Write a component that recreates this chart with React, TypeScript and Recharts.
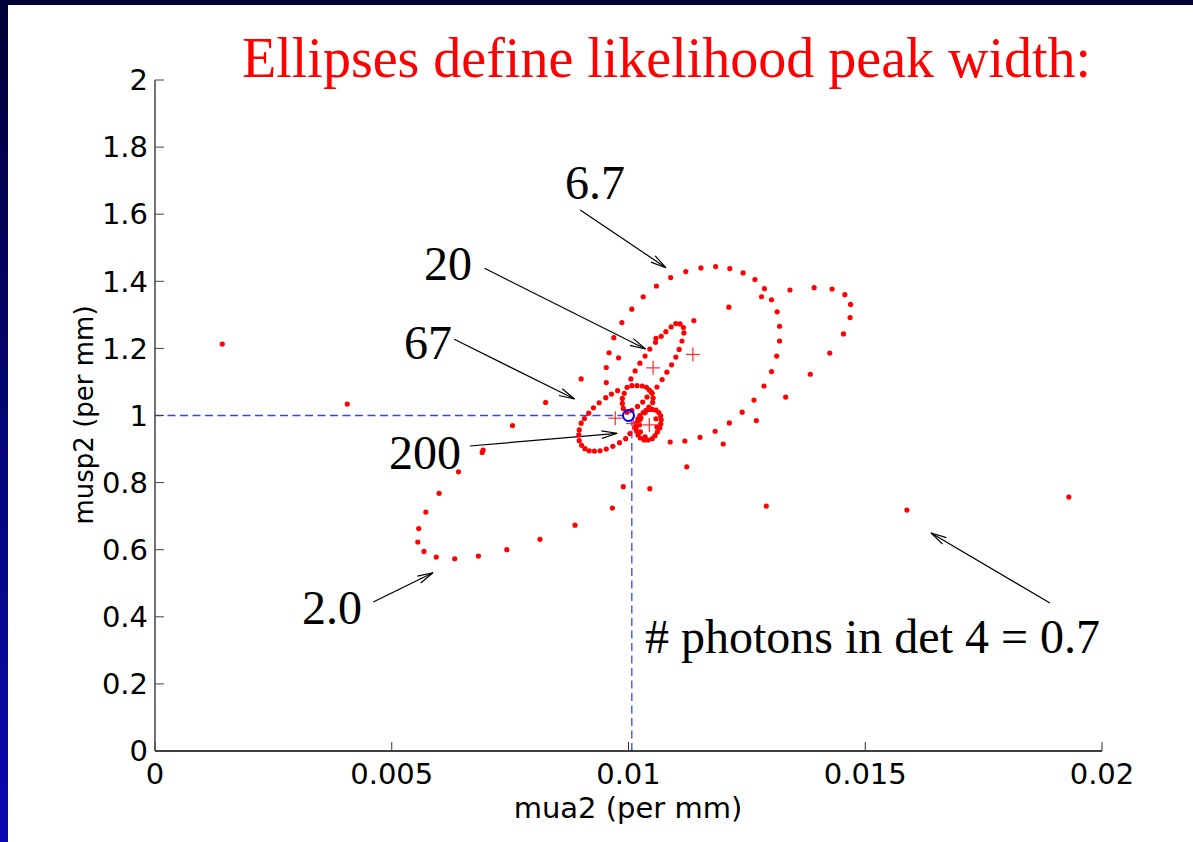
import React from "react";
import { ScatterChart, Scatter, XAxis, YAxis, ReferenceLine } from "recharts";

// contour dots, [mua2, musp2] in per mm
const ellipse2 = [
  [0.006, 0.768], [0.00572, 0.712], [0.00557, 0.663], [0.00555, 0.623], [0.00568, 0.595],
  [0.00594, 0.578], [0.00633, 0.573], [0.00683, 0.581], [0.00743, 0.6], [0.00813, 0.631],
  [0.00887, 0.673], [0.00966, 0.724], [0.01045, 0.782], [0.01123, 0.847], [0.012, 0.915],
  [0.0127, 0.985], [0.01332, 1.055], [0.01384, 1.123], [0.01425, 1.186], [0.01454, 1.243],
  [0.01468, 1.292], [0.01469, 1.331], [0.01457, 1.36], [0.0143, 1.377], [0.01392, 1.381],
  [0.01341, 1.374], [0.01281, 1.354], [0.01212, 1.323], [0.01138, 1.283], [0.01058, 1.23],
  [0.00979, 1.172], [0.009, 1.109], [0.00825, 1.039], [0.00755, 0.97], [0.00693, 0.897],
  [0.00641, 0.832],
];

const ellipse6p7 = [
  [0.00953, 1.098], [0.00953, 1.143], [0.00959, 1.187], [0.00969, 1.232], [0.00986, 1.277],
  [0.01007, 1.317], [0.01031, 1.354], [0.01059, 1.386], [0.01089, 1.411], [0.01121, 1.429],
  [0.01153, 1.44], [0.01184, 1.444], [0.01214, 1.438], [0.01242, 1.425], [0.01267, 1.405],
  [0.01287, 1.378], [0.01302, 1.345], [0.01314, 1.309], [0.01319, 1.266], [0.01319, 1.222],
  [0.01313, 1.177], [0.01302, 1.131], [0.01286, 1.088], [0.01265, 1.046], [0.0124, 1.01],
  [0.01213, 0.978], [0.01183, 0.953], [0.01151, 0.935], [0.01119, 0.924], [0.01088, 0.921],
];

const ellipse20 = [
  [0.011, 1.274], [0.0109, 1.264], [0.01079, 1.25], [0.01069, 1.236], [0.01057, 1.218],
  [0.01045, 1.198], [0.01035, 1.177], [0.01024, 1.156], [0.01014, 1.133], [0.01005, 1.109],
  [0.00997, 1.084], [0.00991, 1.066], [0.00987, 1.051], [0.00987, 1.036], [0.00989, 1.021],
  [0.00997, 1.01], [0.01007, 1.015], [0.01019, 1.027], [0.0103, 1.04], [0.01039, 1.055],
  [0.01048, 1.07], [0.0106, 1.085], [0.01071, 1.107], [0.01081, 1.129], [0.01091, 1.151],
  [0.011, 1.174], [0.01107, 1.197], [0.01113, 1.222], [0.01117, 1.246], [0.01116, 1.262],
  [0.01109, 1.273],
];

const ellipse67 = [
  [0.00895, 0.942], [0.00896, 0.957], [0.009, 0.977], [0.00907, 0.991], [0.00916, 1.007],
  [0.00926, 1.023], [0.00938, 1.038], [0.00952, 1.053], [0.00964, 1.064], [0.00977, 1.074],
  [0.01007, 1.089], [0.01018, 1.089], [0.01029, 1.088], [0.01038, 1.084], [0.01044, 1.076],
  [0.0105, 1.066], [0.01052, 1.052], [0.01051, 1.039], [0.01043, 1.025], [0.01035, 1.008],
  [0.01024, 0.987], [0.01013, 0.964], [0.01003, 0.946], [0.00994, 0.931], [0.00981, 0.919],
  [0.00967, 0.908], [0.00953, 0.9], [0.0094, 0.895], [0.00928, 0.894], [0.00917, 0.895],
  [0.00908, 0.901], [0.00901, 0.911], [0.00896, 0.925],
];

const ellipse200 = [
  [0.0105, 1.018], [0.01058, 1.016], [0.01064, 1.009], [0.01068, 0.999], [0.01069, 0.987],
  [0.01068, 0.975], [0.01066, 0.963], [0.01061, 0.951], [0.01056, 0.94], [0.0105, 0.931],
  [0.01041, 0.927], [0.01033, 0.927], [0.01025, 0.933], [0.0102, 0.942], [0.01017, 0.954],
  [0.01016, 0.966], [0.01017, 0.978], [0.0102, 0.99], [0.01024, 1.0], [0.01031, 1.009],
  [0.01037, 1.015], [0.01043, 1.018], [0.01023, 0.972], [0.01025, 0.951], [0.01035, 0.936],
  [0.01026, 0.993], [0.0106, 0.966], [0.01058, 0.99],
];

// dots from the 0.7-photon contour that fall inside the axes
const ellipse0p7 = [
  [0.00142, 1.213], [0.00406, 1.034], [0.00691, 0.89], [0.00989, 0.788],
  [0.01291, 0.73], [0.01588, 0.718], [0.0193, 0.757],
];

// fitted peak centres and the true value
const centres = [
  [0.00972, 0.992], [0.0101, 0.976], [0.01044, 0.972], [0.01052, 1.142], [0.01136, 1.182],
];
const truth = [[0.01, 1]];

const xTicks = [0, 0.005, 0.01, 0.015, 0.02];
const yTicks = [0, 0.2, 0.4, 0.6, 0.8, 1, 1.2, 1.4, 1.6, 1.8, 2];

// annotation arrows: [fromX, fromY, toX, toY]
const arrows = [
  [0.00898, 1.6125, 0.01079, 1.4405],
  [0.00696, 1.4387, 0.01036, 1.1982],
  [0.00632, 1.2271, 0.00886, 1.0492],
  [0.00665, 0.9091, 0.00976, 0.947],
  [0.00461, 0.4441, 0.00587, 0.5314],
  [0.0189, 0.4411, 0.01639, 0.6498],
];

const pts = (arr: number[][]) => arr.map(([x, y]) => ({ x, y }));

const RedDot = (p: any) => <circle cx={p.cx} cy={p.cy} r={2.6} fill="#ff0000" />;

const Plus = (p: any) => (
  <g stroke="#ff2a2a" strokeWidth={1.2}>
    <line x1={p.cx - 7} y1={p.cy} x2={p.cx + 7} y2={p.cy} />
    <line x1={p.cx} y1={p.cy - 7} x2={p.cx} y2={p.cy + 7} />
  </g>
);

const Ring = (p: any) => (
  <circle cx={p.cx} cy={p.cy} r={5.5} fill="none" stroke="#0000ff" strokeWidth={2} />
);

const Arrow = (p: any) => {
  const { x1, y1, x2, y2 } = p;
  const a = Math.atan2(y2 - y1, x2 - x1);
  const len = 16;
  const s = 0.24;
  const b1 = [x2 - len * Math.cos(a - s), y2 - len * Math.sin(a - s)];
  const b2 = [x2 - len * Math.cos(a + s), y2 - len * Math.sin(a + s)];
  return (
    <g stroke="#000" strokeWidth={1.2} fill="none">
      <line x1={x1} y1={y1} x2={x2} y2={y2} />
      <polyline points={`${b1[0]},${b1[1]} ${x2},${y2} ${b2[0]},${b2[1]}`} />
    </g>
  );
};

const serif = "'Liberation Serif', 'Times New Roman', serif";
const sans = "'DejaVu Sans', sans-serif";

export default function App() {
  const W = 1193;
  const H = 842;
  return (
    <div style={{ position: "absolute", left: 0, top: 0, width: W, height: H, overflow: "hidden",
      background: "linear-gradient(to bottom, #000036, #0a0ab4)" }}>
      <div style={{ position: "absolute", left: 8, top: 5, right: 0, bottom: 0, background: "#fff" }} />
      <div style={{ position: "absolute", left: 0, top: 0 }}>
        <ScatterChart width={W} height={H} margin={{ top: 80, right: 91, bottom: 90, left: 154 }}>
          <XAxis type="number" dataKey="x" domain={[0, 0.02]} ticks={xTicks} allowDataOverflow
            height={1} interval={0} tickSize={-9} tickMargin={21}
            axisLine={{ stroke: "#000", strokeWidth: 1.5 }} tickLine={{ stroke: "#333" }}
            tick={{ fontSize: 29, fill: "#000", fontFamily: sans }} />
          <YAxis type="number" dataKey="y" domain={[0, 2]} ticks={yTicks} allowDataOverflow
            width={1} interval={0} tickSize={-9} tickMargin={16}
            axisLine={{ stroke: "#444", strokeWidth: 1.5 }} tickLine={{ stroke: "#444" }}
            tick={{ fontSize: 29, fill: "#000", fontFamily: sans }} />
          <ReferenceLine segment={[{ x: 0, y: 1 }, { x: 0.00988, y: 1 }]}
            stroke="#3344ff" strokeWidth={1.3} strokeDasharray="8 4.5" />
          <ReferenceLine segment={[{ x: 0.01007, y: 0 }, { x: 0.01007, y: 0.985 }]}
            stroke="#3344ff" strokeWidth={1.3} strokeDasharray="8 4.5" />
          {arrows.map((a, i) => (
            <ReferenceLine key={i} segment={[{ x: a[0], y: a[1] }, { x: a[2], y: a[3] }]}
              ifOverflow="visible" shape={Arrow} />
          ))}
          <Scatter data={pts(ellipse0p7)} shape={RedDot} isAnimationActive={false} />
          <Scatter data={pts(ellipse2)} shape={RedDot} isAnimationActive={false} />
          <Scatter data={pts(ellipse6p7)} shape={RedDot} isAnimationActive={false} />
          <Scatter data={pts(ellipse20)} shape={RedDot} isAnimationActive={false} />
          <Scatter data={pts(ellipse67)} shape={RedDot} isAnimationActive={false} />
          <Scatter data={pts(ellipse200)} shape={RedDot} isAnimationActive={false} />
          <Scatter data={pts(centres)} shape={Plus} isAnimationActive={false} />
          <Scatter data={pts(truth)} shape={Ring} isAnimationActive={false} />
        </ScatterChart>
      </div>
      <svg width={W} height={H} style={{ position: "absolute", left: 0, top: 0, pointerEvents: "none" }}>
        <text x={242} y={77} fontFamily={serif} fontSize={56} fill="#ff0000">
          Ellipses define likelihood peak width:
        </text>
        <g fontFamily={serif} fontSize={48} fill="#000">
          <text x={565} y={199}>6.7</text>
          <text x={424} y={280}>20</text>
          <text x={404} y={359}>67</text>
          <text x={389} y={469}>200</text>
          <text x={302} y={624}>2.0</text>
          <text x={645} y={653}># photons in det 4 = 0.7</text>
        </g>
        <text x={628} y={818} textAnchor="middle" fontFamily={sans} fontSize={29} fill="#000">
          mua2 (per mm)
        </text>
        <text x={93} y={415} textAnchor="middle" fontFamily={sans} fontSize={26} fill="#000"
          transform="rotate(-90 93 415)">
          musp2 (per mm)
        </text>
      </svg>
    </div>
  );
}
